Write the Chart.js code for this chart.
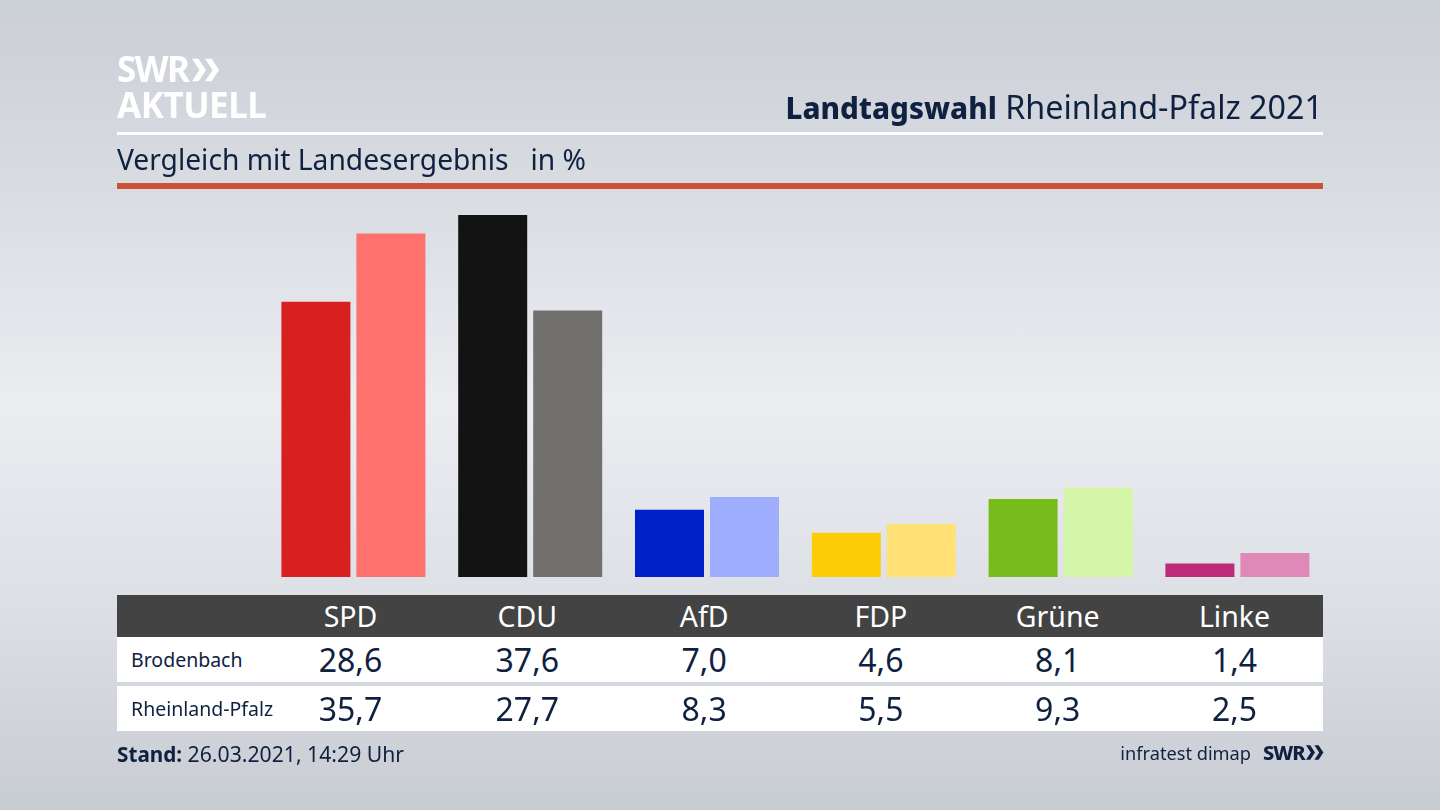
<!DOCTYPE html>
<html lang="de">
<head>
<meta charset="utf-8">
<title>Landtagswahl Rheinland-Pfalz 2021</title>
<script src="https://cdn.jsdelivr.net/npm/chart.js@4"></script>
<style>
    html, body { margin: 0; padding: 0; }
    body {
        width: 1440px; height: 810px; overflow: hidden; position: relative;
        font-family: "Noto Sans", sans-serif; color: #0f2140;
        background: linear-gradient(to bottom, #cbcfd6 0%, #d8dbe0 22%, #ebedf1 50%, #dcdfe4 75%, #c8ccd3 100%);
    }
    #resultChart { position: absolute; left: 0; top: 0; }
    .abs { position: absolute; white-space: nowrap; }
    #logo { left: 117px; top: 51px; color: #fff; font-weight: 700; line-height: 36px; font-size: 35px; letter-spacing: -0.5px; }
    #logo span { letter-spacing: -1.6px; }
    #logo svg { margin-left: 4px; }
    #title { right: 117px; top: 85px; font-size: 32.3px; line-height: 42px; }
    #title b { font-weight: 800; font-size: 29.6px; }
    #rule1 { left: 117px; top: 132px; width: 1206px; height: 3px; background: #fff; }
    #subtitle { left: 117px; top: 140px; font-size: 28.2px; line-height: 38px; }
    #rule2 { left: 117px; top: 183px; width: 1206px; height: 6px; background: #cb5238; }
    #head { left: 117px; top: 595px; width: 1206px; height: 42px; background: #434343; }
    .row { left: 117px; width: 1206px; height: 45px; background: #fff; }
    .rowLabel { position: absolute; left: 14px; top: 0; line-height: 45px; font-size: 19.5px; }
    .cell { position: absolute; width: 160px; text-align: center; }
    #head .cell { top: 0; line-height: 42px; font-size: 28.5px; color: #fff; }
    .row .cell { top: 0; line-height: 45px; font-size: 32px; }
    #stand { left: 117px; top: 739px; font-size: 21.2px; line-height: 30px; }
    #stand b { font-size: 20.7px; }
    #source { right: 189px; top: 738px; font-size: 18.2px; line-height: 30px; }
    #swr { left: 1263px; top: 738px; font-size: 20px; line-height: 30px; font-weight: 800; letter-spacing: -1px; }
</style>
</head>
<body>
<canvas id="resultChart" width="1440" height="810"></canvas>

<div class="abs" id="logo"><span>SWR</span><svg width="28" height="24" viewBox="0 0 30 24"><path d="M0 0h7l8 12-8 12H0l8-12zM14 0h7l8 12-8 12h-7l8-12z" fill="#fff"/></svg><br>AKTUELL</div>
<div class="abs" id="title"><b>Landtagswahl</b> Rheinland-Pfalz 2021</div>
<div class="abs" id="rule1"></div>
<div class="abs" id="subtitle">Vergleich mit Landesergebnis &nbsp; in %</div>
<div class="abs" id="rule2"></div>

<div class="abs" id="head"></div>
<div class="abs row" id="row0" style="top:637px"></div>
<div class="abs row" id="row1" style="top:686px"></div>

<div class="abs" id="stand"><b>Stand:</b> 26.03.2021, 14:29 Uhr</div>
<div class="abs" id="source">infratest dimap</div>
<div class="abs" id="swr">SWR<svg width="18" height="15" viewBox="0 0 30 24" style="margin-left:1px"><path d="M0 0h7l8 12-8 12H0l8-12zM14 0h7l8 12-8 12h-7l8-12z" fill="#0f2140"/></svg></div>

<script>
// Values
const parties = ['SPD', 'CDU', 'AfD', 'FDP', 'Grüne', 'Linke'];
const brodenbach = [28.6, 37.6, 7.0, 4.6, 8.1, 1.4];
const rheinlandPfalz = [35.7, 27.7, 8.3, 5.5, 9.3, 2.5];
const rowNames = ['Brodenbach', 'Rheinland-Pfalz'];
const strongColors = ['#d7201f', '#131313', '#0020c8', '#ffcc0a', '#78bc1b', '#be2a78'];
const lightColors = ['#ff716c', '#71706e', '#9fadff', '#ffe176', '#d5f6a8', '#df89b8'];

// Centre of each table column, relative to the table's left edge
const columnStep = 176.8;
const firstColumn = 233.5;

// German decimal comma
function formatValue(value) {
    return value.toFixed(1).replace('.', ',');
}

// Function to add one cell to a table row
function addCell(parent, index, text) {
    const cell = document.createElement('div');
    cell.className = 'cell';
    cell.style.left = (firstColumn + index * columnStep - 80) + 'px';
    cell.textContent = text;
    parent.appendChild(cell);
}

// Function to fill the table below the bars
function buildTable() {
    const rows = [brodenbach, rheinlandPfalz];
    parties.forEach((party, i) => addCell(document.getElementById('head'), i, party));
    rows.forEach((values, r) => {
        const row = document.getElementById('row' + r);
        const label = document.createElement('div');
        label.className = 'rowLabel';
        label.textContent = rowNames[r];
        row.appendChild(label);
        values.forEach((value, i) => addCell(row, i, formatValue(value)));
    });
}

// Function to draw the bars
function initChart() {
    const ctx = document.getElementById('resultChart').getContext('2d');
    new Chart(ctx, {
        type: 'bar',
        data: {
            labels: parties,
            datasets: [
                { label: rowNames[0], data: brodenbach, backgroundColor: strongColors },
                { label: rowNames[1], data: rheinlandPfalz, backgroundColor: lightColors }
            ]
        },
        options: {
            responsive: false,
            animation: false,
            devicePixelRatio: 1,
            categoryPercentage: 0.8484,
            barPercentage: 0.92,
            layout: { padding: { left: 265, right: 114.2, top: 192, bottom: 233 } },
            scales: {
                x: { display: false },
                y: { display: false, min: 0, max: 40 }
            },
            plugins: {
                legend: { display: false },
                tooltip: { enabled: false }
            }
        }
    });
}

buildTable();
initChart();
</script>
</body>
</html>
